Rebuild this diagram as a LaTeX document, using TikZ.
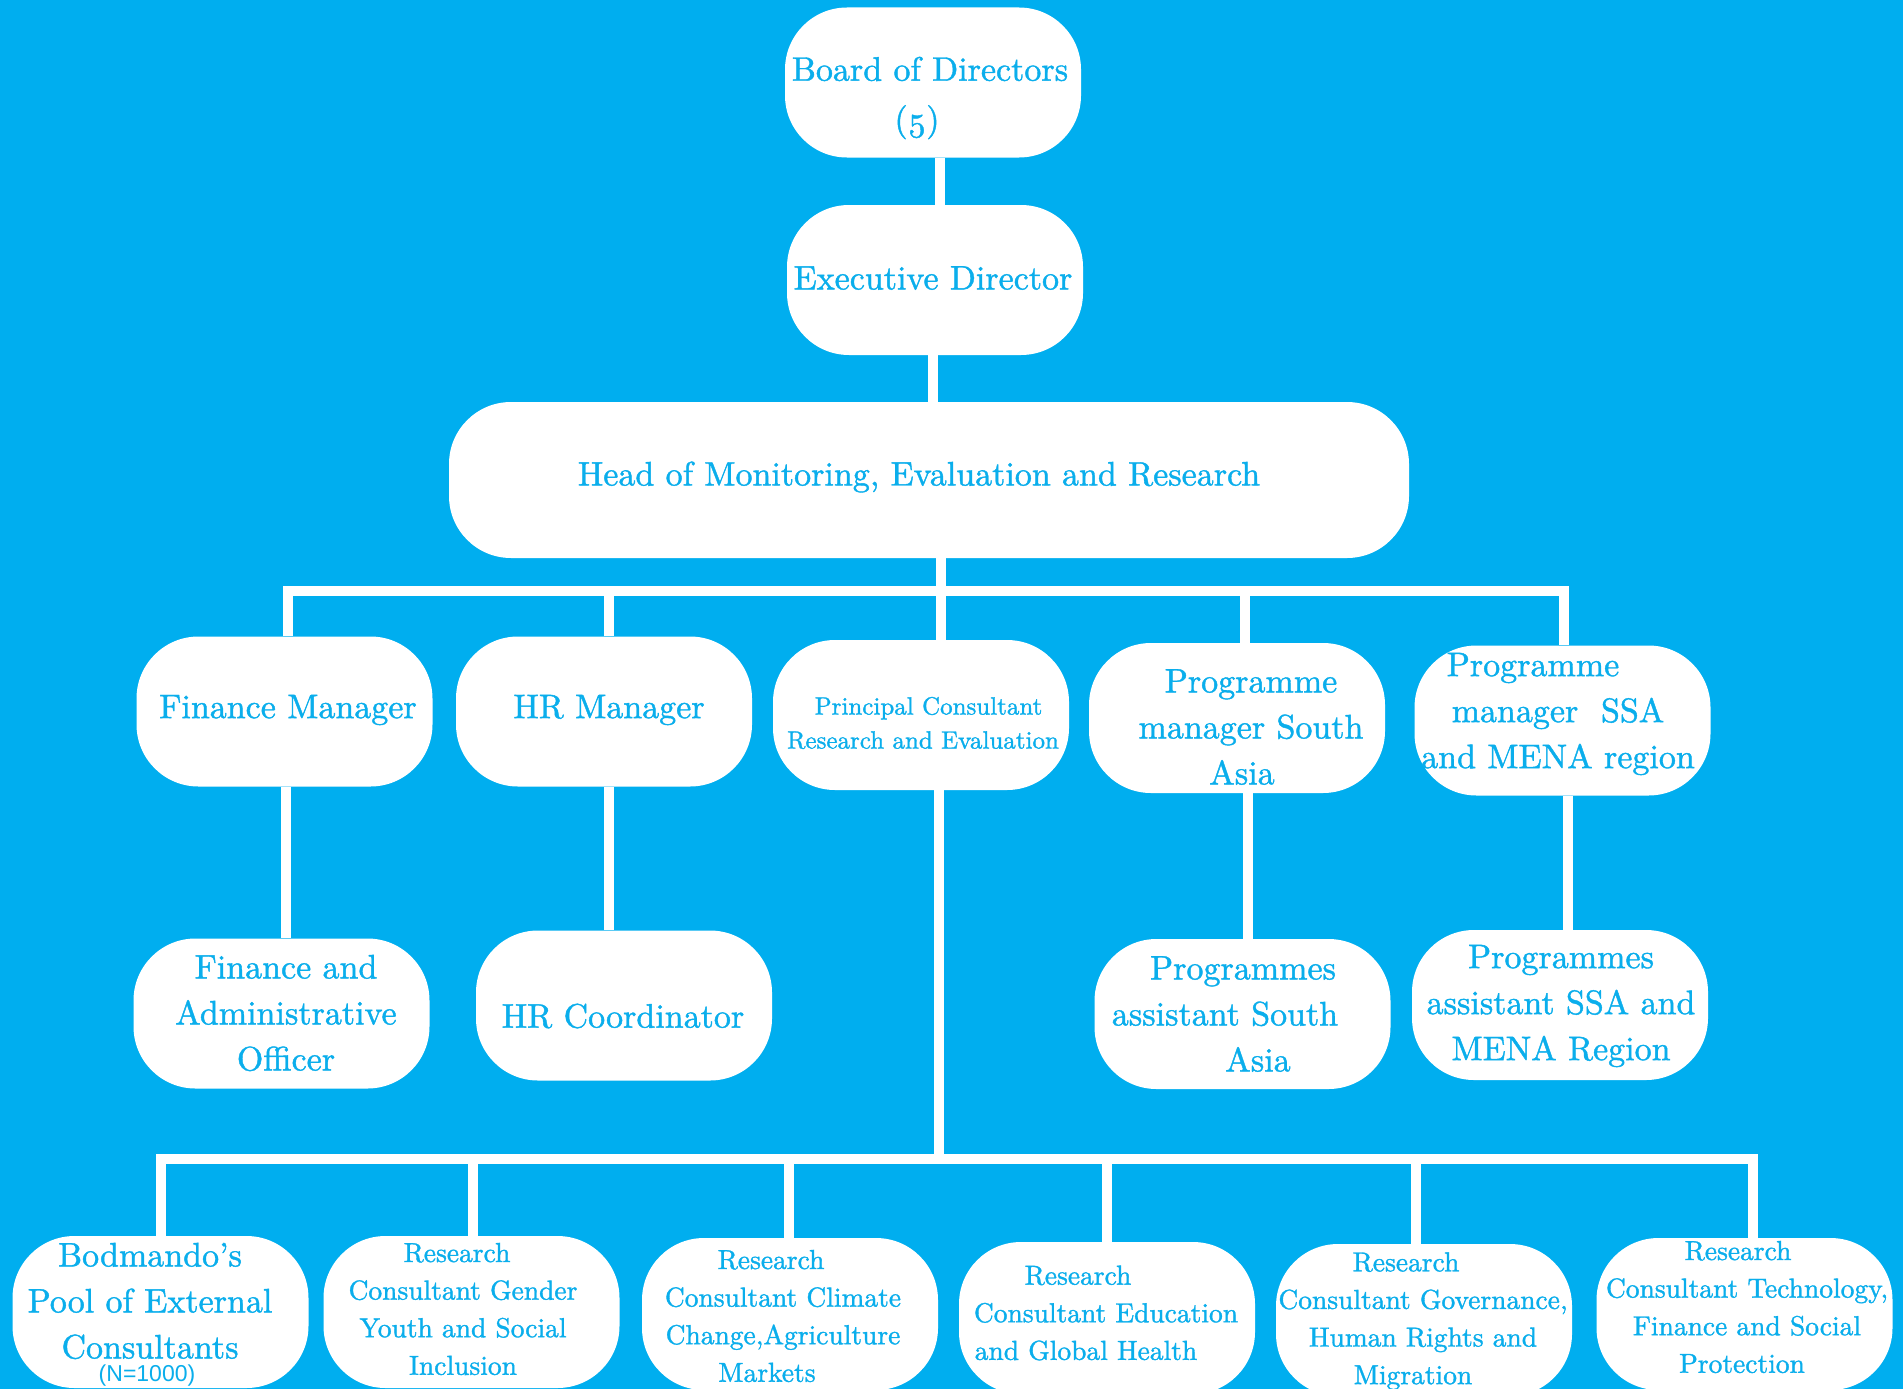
\documentclass[tikz,border=0pt]{standalone}
\usepackage{fontspec}
\setmainfont{lmroman10-regular.otf}[FakeBold=1.2]
\setsansfont{Liberation Sans}
\definecolor{bgblue}{HTML}{00AEEF}
\definecolor{tblue}{HTML}{0AAEEC}
\newcommand\lsh[1]{\hspace*{#1pt}}
\begin{document}
\begin{tikzpicture}[x=1pt,y=-1pt,
  box/.style={fill=white, rounded corners=62pt, minimum width=296pt, minimum height=150pt, inner sep=0pt},
  lbl/.style={text=tblue, align=center, inner sep=0pt, font=\fontsize{34}{46}\selectfont},
  lblm/.style={lbl, font=\fontsize{25}{34}\selectfont},
  lbls/.style={lbl, font=\fontsize{27.5}{37.6}\selectfont},
  conn/.style={draw=white, line width=10pt}]
\fill[bgblue] (0,0) rectangle (1903,1389);
\useasboundingbox (0,0) rectangle (1903,1389);

% boxes
\node[box] (board) at (933,82.5) {};
\node[box] (exec) at (935,280) {};
\node[box, minimum width=960pt, minimum height=156pt] (head) at (929,480) {};
\node[box] (finm) at (284.5,711.5) {};
\node[box] (hrm) at (604,711.5) {};
\node[box] (prin) at (921,715) {};
\node[box] (pmsa) at (1237,718) {};
\node[box] (pmssa) at (1562.5,720.5) {};
\node[box] (fao) at (281.5,1013.5) {};
\node[box] (hrc) at (624,1005.5) {};
\node[box] (pasa) at (1242.5,1014) {};
\node[box] (passa) at (1560,1005) {};
\node[box, minimum height=152pt] (bodm) at (160.5,1312) {};
\node[box, minimum height=152pt] (gend) at (471.5,1312) {};
\node[box, minimum height=152pt] (clim) at (790,1314) {};
\node[box, minimum height=152pt] (educ) at (1107,1318) {};
\node[box, minimum height=152pt] (gov) at (1424,1320) {};
\node[box, minimum height=152pt] (tech) at (1744.5,1314) {};

% bus coordinates
\coordinate (busA) at (941,591);
\coordinate (busB) at (939,1159);

% connectors
\draw[conn] ([xshift=7pt]board.south) -- ([xshift=5pt]exec.north);
\draw[conn] ([xshift=-2pt]exec.south) -- ([xshift=4pt]head.north);
\draw[conn] ([xshift=12pt]head.south) -- (busA);
\draw[conn] ([xshift=3.5pt]finm.north) |- (busA) -| ([xshift=1.5pt]pmssa.north);
\draw[conn] ([xshift=5pt]hrm.north) -- ([xshift=5pt]hrm.north |- busA);
\draw[conn] ([xshift=20pt]prin.north) -- ([xshift=20pt]prin.north |- busA);
\draw[conn] ([xshift=8pt]pmsa.north) -- ([xshift=8pt]pmsa.north |- busA);
\draw[conn] ([xshift=1.5pt]finm.south) -- ([xshift=1.5pt]finm.south |- fao.north);
\draw[conn] ([xshift=5pt]hrm.south) -- ([xshift=5pt]hrm.south |- hrc.north);
\draw[conn] ([xshift=11pt]pmsa.south) -- ([xshift=11pt]pmsa.south |- pasa.north);
\draw[conn] ([xshift=5.5pt]pmssa.south) -- ([xshift=5.5pt]pmssa.south |- passa.north);
\draw[conn] ([xshift=18pt]prin.south) -- (busB);
\draw[conn] ([xshift=0.5pt]bodm.north) |- (busB) -| ([xshift=8.5pt]tech.north);
\draw[conn] ([xshift=1.5pt]gend.north) -- ([xshift=1.5pt]gend.north |- busB);
\draw[conn] ([xshift=-1pt]clim.north) -- ([xshift=-1pt]clim.north |- busB);
\draw[conn] (educ.north) -- (educ.north |- busB);
\draw[conn] ([xshift=-8pt]gov.north) -- ([xshift=-8pt]gov.north |- busB);

% labels
\node[lbl, font=\fontsize{34}{50}\selectfont] (board-t) at (930,98) {Board of Directors\\\lsh{0}(\oldstylenums{5})\lsh{26}};
\node[lbl] (exec-t) at (933,278) {Executive Director};
\node[lbl] (head-t) at (919,477) {Head of Monitoring, Evaluation and Research};
\node[lbl] (finm-t) at (288,710) {Finance Manager};
\node[lbl] (hrm-t) at (609,710) {HR Manager};
\node[lblm] (prin-t) at (923,723) {\lsh{11}Principal Consultant\\Research and Evaluation};
\node[lbl] (pmsa-t) at (1251,727) {Programme\\manager South\\Asia\lsh{18}};
\node[lbl] (pmssa-t) at (1558,714) {Programme\lsh{50}\\manager\ \ SSA\lsh{39}\\and MENA region};
\node[lbl] (fao-t) at (286,1013) {Finance and\\Administrative\\Officer};
\node[lbl] (hrc-t) at (623,1016) {HR Coordinator};
\node[lbl] (pasa-t) at (1225,1014) {\lsh{36}Programmes\\assistant South\\\lsh{66}Asia};
\node[lbl] (passa-t) at (1561,1006) {Programmes\\assistant SSA and\\MENA Region};
\node[lbl] (bodm-t) at (150,1301) {Bodmando’s\\Pool of External\\Consultants};
\node[text=tblue, inner sep=0pt, font=\sffamily\fontsize{23}{26}\selectfont] (bodm-n) at (147,1376) {(N=1000)};
\node[lbls] (gend-t) at (463,1309) {Research\lsh{12}\\Consultant Gender\lsh{0}\\Youth and Social\lsh{26}\\Inclusion};
\node[lbls] (clim-t) at (783,1316) {Research\lsh{24}\\Consultant Climate\\Change,Agriculture\\Markets\lsh{32}};
\node[lbls] (educ-t) at (1106,1313) {Research\lsh{56}\\Consultant Education\\and Global Health\lsh{40}};
\node[lbls] (gov-t) at (1423,1321) {Research\lsh{34}\\Consultant Governance,\\Human Rights and\lsh{54}\\Migration\lsh{20}};
\node[lbls] (tech-t) at (1747,1307) {Research\lsh{18}\\Consultant Technology,\\Finance and Social\lsh{44}\\Protection\lsh{10}};
\end{tikzpicture}
\end{document}
